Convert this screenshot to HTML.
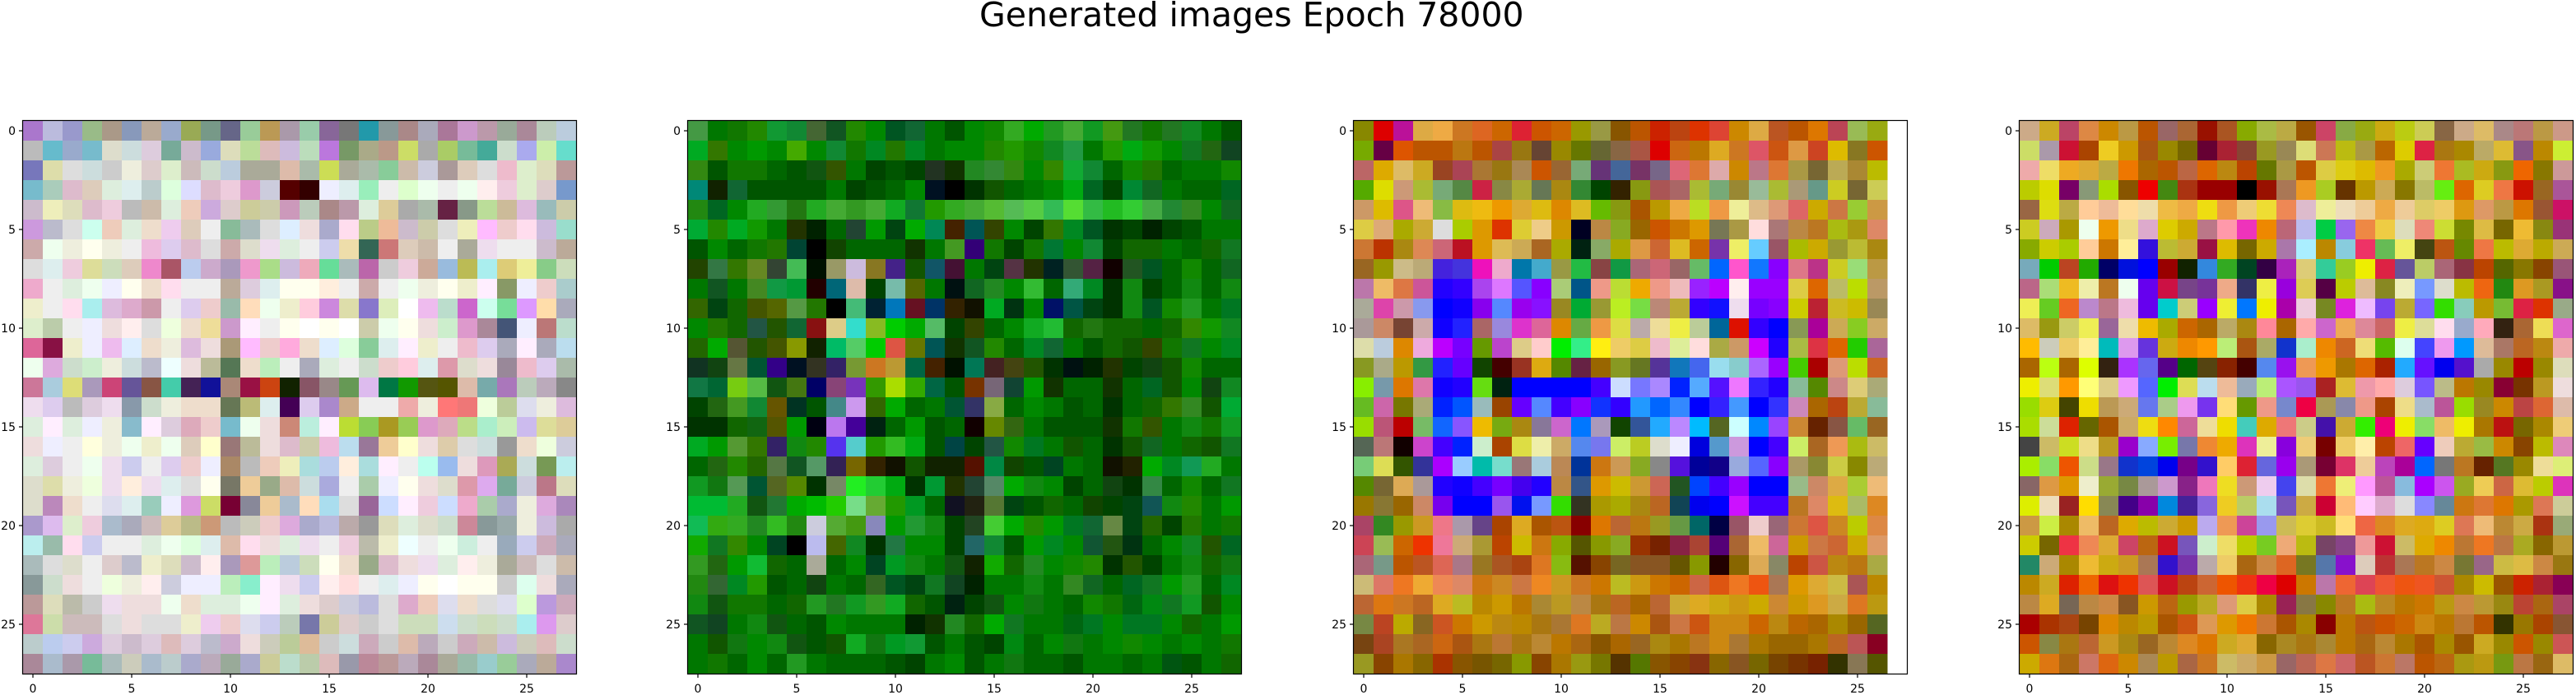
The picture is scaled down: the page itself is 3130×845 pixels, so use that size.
<!DOCTYPE html>
<html><head><meta charset="utf-8">
<style>
html,body{margin:0;padding:0;background:#fff;}
svg{display:block;font-family:"DejaVu Sans","Liberation Sans",sans-serif;}
</style></head>
<body>
<svg id="fig" width="3130" height="845" viewBox="0 0 3130 845" xmlns="http://www.w3.org/2000/svg">
<rect x="0" y="0" width="3130" height="845" fill="#fff"/>
<text x="1190" y="32" font-size="41" fill="#000">Generated images Epoch 78000</text>
<g id="panels"></g>
</svg>
<script>
const xTickValues = [0, 5, 10, 15, 20, 25];
const yTickValues = [0, 5, 10, 15, 20, 25];
const tickLabels = ["0", "5", "10", "15", "20", "25"];
const panelNames = ["image-1", "image-2", "image-3", "image-4"];

const image1Rows = [
"a7c bbd 99c 9b8 a98 89b ba9 9ac 9a5 798 668 9c9 b95 a9a 9ca 869 777 29a 899 a88 aab a79 c9c b9a 9a9 a89 bcb bcd",
"bbb 6bc 9ac 7bc ddc cdd dcd 7a9 cbc 9ad ddb bd9 dbb cbd bdb b7d 796 aa8 b98 cd6 aaa ac6 7b9 4a9 cdc aae cea 6dc",
"77b dda ddd cdd ccc eed dcc dec cbb cdc bcd aa9 aa9 dba aba cd5 aa9 aba 8c9 cba ccd a99 dcb ddd ebc dec ddb b99",
"7bc acb dbc dcb ded dee bcc dfd ddf dbc ecd d9c ccd 500 300 eef dee 9eb eee dfc efe eee efe fee ecd dec dcc 79c",
"cbc eeb ddb dbc ecd bbb cba ded ecb cad dcc cc9 cca c9b bcb a88 b9a ded dc9 aaa aba 624 898 bd9 cb9 dbd 9bb cca",
"c9d bbc ddd cfe ecb ded edc ece dcb eee 8b9 abb ddd def edd aac fde bc8 eb9 cbc cca ddd eeb fbf ecc fde cbd 9dc",
"caa efe eed ffe eed eee ebd dce dbc ddd caa ddc ede ded eee cce eda 365 c77 dcb cba eee aa9 ede eee eee cbc ba9",
"ddd dee ecd dd9 cdb dcb e8c a56 bce cac a9b e9c ad8 cbd eab 6d9 abb b6a ccc ecd ca9 9bd bb5 aee dc7 ee9 8c8 cdb",
"eac eee ded efe eef ffe edc fde eee eee ba9 dcd dee ffe ffe fed eee caa eee efe eed ffe eec fef 896 eef ecc acc",
"eec eee fde aee dbd dac c9a eee dce ecc 9ba fdb efe eec fcd c8d dda 87c deb fff ebe bdc c6c cfe 7d9 d9f fda aab",
"dec bca eee eef edd fee ddd efd edc ed9 c9c fef eee ffe fff ffe fff cca efe ffe edd cec d9c a89 457 eef b77 bdc",
"d69 814 eec eef ebe def edc eed dbd edd a97 fbf ecc fad edc def dfd 8c9 dee fef eec eee ebc dce aab fef aab bde",
"efe dad cdc cec eed cdd bbc eff edd bb9 575 edc beb eee aab ded eee cdc ecc fcd dee d9a ddc edd 989 ebc dce aba",
"c79 acd dd7 a9b c47 659 854 4ca 425 119 a87 914 c41 120 856 988 695 dbe 074 190 551 550 dba 7aa a7b bcb bab 888",
"ede dce bbb dcd ede 89a cdc eed edc edc 675 bb7 dee 405 dce a8c ca8 eee eee eaa eed f77 e77 efd bc9 dde eed dbd",
"ded fef ded eef eed 8bc fef dcd dab ecc 7bc efe edd c87 bed fef bd3 8c5 a92 9c5 d9c dab bd8 aec ceb cbe dd9 dc9",
"edd eef eee ffd eed efe eec efe dcb ffc 977 bb9 edd dbc cca ebd bde 979 ec9 ffc edd dca ddd cdd 999 edc efd ccd",
"ded dcd eee efe ede cce eee dce ecc eef a86 bbb ecb eeb add bce fed add fef eee bfe 9be edd d9b aa5 cdd 795 bee",
"ddc dda eed efd ede fed ede dee ddd ffe 776 ec9 9a8 dba cdd aad eee aca eef ffe edd ddc d9a dae 7a9 ccd b78 ddb",
"ddc b8b edc eee dde dee 9cb eef d9d cd6 703 889 ec9 abc fdb ade ddd 969 cdf fef ecd cdf eac aca aac eed dad a8b",
"a9c dbe dec ecd abc aab cbb dc9 bb8 c97 bbb ccb ecc dad aac bbd baa 999 ddb ded ddc cdc c89 899 9aa eed cbd aaa",
"bee 9ba fde cce eee eee ded efe dfd dee dba fde edd ded ede eee ecd bba eec eff eee efe ced eee 9ab cce cab aab",
"abb ddd ddc eee dcc bbc eec ddb cbc fee a9b d99 beb bcd cdb ffe edc 9a8 dbc edd ede ded fee eed aa9 cbb ddd cba",
"899 cdc edd eee efd eed fee ccd eef eef beb 8ec fef ede cce fee fdd eee dee eef ffe fff ffe ffe ccc dfe edd aab",
"b99 ddb bba ccc ede edd edd efe edc ded ded efe fef ded edd dcc ccd bbd ddd dac ecb dde edc ddd dde dfc b9d cab",
"d79 cda cbb cbb ddd edd ddd ddd eec ece ecc dde cce bcb 77a cc9 dcc ccc ddd cdb cdb cde cdc cdb cdc aee d9e dcc",
"bcc bce cce cad dcd cbc dcd dbb dcd bbc cac edd ccb bc9 db9 ccc cdd cab ccc dba bab ccc cab cba cbd ccb dbb cdc",
"a89 abc a9a 7b9 abb ccb abc bcc aac bab 9a9 aac cc9 bdc bca dbb 99a b89 b99 bab a89 aa9 9ba 9cc 9c9 aab ba9 a8c"
];

const image2Rows = [
"494 070 170 280 193 183 463 152 280 080 052 163 070 050 080 180 3a2 0a0 292 4a3 192 491 272 170 272 182 070 050",
"0a2 370 080 090 080 4a0 080 183 170 082 270 082 070 080 080 280 290 180 182 294 070 290 0a1 190 080 172 261 142",
"381 050 170 170 060 050 151 350 070 040 050 040 232 130 282 383 381 080 380 1a3 183 060 180 270 060 070 070 180",
"087 120 163 050 050 050 050 070 040 050 060 080 012 000 030 150 060 070 080 0a1 062 040 083 162 070 060 060 062",
"281 062 080 2a2 393 271 2a2 4a3 392 4a3 1a2 173 290 3a2 4a3 5b3 5b5 5c4 3b5 5d3 3b4 2b2 3c3 4a4 283 382 080 162",
"0a3 280 0a2 190 070 230 020 060 243 090 041 0a0 085 420 055 340 080 040 370 082 052 030 040 020 040 050 070 070",
"050 080 060 170 270 043 000 140 060 060 060 130 070 492 307 170 040 170 073 080 183 040 160 160 070 060 160 172",
"240 374 370 682 343 4b5 010 996 cbd 872 428 150 156 413 070 041 534 230 022 353 524 100 252 052 060 180 060 162",
"070 152 070 482 194 093 200 067 dba 040 7ba 560 070 011 162 282 080 3b3 060 3a7 082 030 181 040 060 181 060 181",
"360 041 160 450 560 594 270 000 4b7 023 07b 612 036 320 110 0a2 031 080 016 054 041 030 181 052 180 292 070 072",
"080 270 160 254 250 163 811 dc8 3dc 8b2 0c0 0a0 5b6 040 340 060 080 1a2 2b3 160 271 160 160 060 160 380 190 182",
"260 0a0 553 250 450 890 120 0b6 5c6 0c0 d54 670 055 130 152 280 060 082 163 070 050 160 150 340 170 172 080 082",
"132 141 674 053 308 012 332 326 793 c72 b93 064 420 010 075 422 441 250 030 011 020 230 040 141 150 180 060 060",
"174 063 7c1 5b4 151 471 006 847 73b 390 ad0 3a0 064 050 730 767 143 090 130 060 060 130 060 062 150 080 141 182",
"040 261 492 183 650 032 050 488 c9e 360 0a0 060 070 053 336 8a4 060 080 070 050 060 030 060 160 370 382 150 0a3",
"030 030 160 161 550 090 001 b7e 409 021 060 090 050 060 100 680 361 070 050 050 050 130 170 350 070 181 170 192",
"0a2 090 593 370 326 181 280 53e 5cc 290 3b2 0a1 050 044 040 254 180 072 070 150 060 030 150 162 070 160 150 172",
"060 261 280 260 574 152 596 325 760 320 110 150 120 120 510 084 140 050 042 070 060 110 220 0a0 082 195 2a2 070",
"192 171 595 053 562 580 030 786 2e2 2c3 0a1 030 093 230 243 586 0a0 181 080 040 060 141 030 384 060 180 060 172",
"0b3 0b3 2a2 151 273 0a0 0b0 2c0 7d8 6a3 290 092 060 112 221 573 041 050 160 060 140 040 041 155 181 280 070 090",
"1b5 3a1 3a2 282 3b2 281 ccd 5a3 491 88b 090 293 181 040 242 4c3 0a0 280 090 072 163 684 041 260 040 270 070 170",
"1a0 172 380 080 042 000 bbe 460 182 030 274 080 080 040 266 183 050 090 082 080 153 251 031 060 080 182 250 062",
"392 261 090 1b3 160 060 aa9 060 080 042 092 181 070 151 120 1a0 160 282 080 180 280 030 250 040 070 181 160 171",
"281 363 082 290 050 060 141 070 060 362 052 041 172 142 020 070 070 181 070 382 162 060 062 172 090 292 060 082",
"181 151 170 170 060 160 292 272 192 392 1a2 160 050 021 040 151 080 171 070 060 180 170 061 081 172 192 150 080",
"152 142 070 181 151 060 050 080 070 070 070 020 130 282 160 0a0 172 070 070 061 072 080 072 072 080 160 070 090",
"070 150 171 080 181 151 050 150 1a2 171 092 193 050 070 050 040 081 060 080 171 070 080 180 080 070 080 070 170",
"070 170 060 080 060 292 070 060 060 060 050 040 070 080 050 070 171 060 060 050 070 070 060 070 051 050 070 160"
];

const image3Rows = [
"880 d00 b19 da4 ea4 c72 d62 c60 d23 c50 c60 990 994 850 b50 c20 b41 d30 d43 c80 da4 b52 b50 d70 b45 9b5 9a1",
"7a0 604 d50 b50 b50 b71 b50 a44 971 643 980 670 663 864 a54 d00 c61 b70 da2 c72 d56 c51 d94 c42 db0 872 c50",
"b66 da0 db6 ca2 942 a45 a73 971 a85 c50 963 7a7 637 469 736 768 d67 d73 daa c80 b78 d73 a94 763 ba5 a83 bb0",
"5a0 dd0 c97 ab3 7a7 584 c24 884 aa3 675 a81 383 040 320 891 a55 a66 ab3 7a7 983 9b9 ab3 a97 698 cc2 763 cc5",
"c96 db0 d58 eb7 8b4 db1 eb1 e90 da3 db1 d80 db2 6b0 891 a50 b90 ea4 bd2 e94 ee9 db8 d97 d66 ca0 c74 9c3 c94",
"dc4 da7 aa0 ca3 ddd ac0 d90 d30 dc3 ec8 c90 002 b84 8a2 960 c50 c70 d90 775 a94 fdd a77 b84 b72 ab1 a91 d86",
"c73 b30 a81 d85 c67 b12 d90 db5 ca5 a62 aa0 021 8a6 aa0 d94 c63 db2 c60 73a ee6 6cf 956 ab0 ca0 993 bb3 a81",
"962 990 cb8 ba7 42d 43d e1b eac 07a 4ac 994 2b4 844 194 a67 c67 966 6b6 06f f5c 17f 80f d78 b38 cc2 9d7 b94",
"b7a eb6 d74 c59 20f 30f a4e d7f 55f 80f ac7 058 e98 bd3 ea0 e98 ebb 92f b0f fee 90f 90f dc4 d60 bb6 bd0 b96",
"aa9 d4a c9a 89e 00f 10f 80e 58f 90e 81f 982 0a3 993 be2 7d4 b87 ba3 30f 11f ede 70f 80f cc0 b23 cb2 cb0 985",
"a99 c86 743 caa 10f 22f a66 98d d3c d69 d80 6a4 e94 dd4 baa ed9 ee4 bc9 069 d10 30f 00f 895 a09 ca5 8c2 ca6",
"dda bcd d80 ead b0f 70f 690 b4c dc8 fcc 0e0 3e8 fe1 ec6 dc4 ebc de9 fdd aa4 c96 c0f 20f ab4 d34 d60 2c0 a69",
"892 aa8 b90 394 22f 60f 140 400 932 da1 580 624 960 892 672 539 17b 46e 9de 8cc a6f 90f 4c0 a00 d97 bd0 c62",
"8e0 79a d70 d7a 10f 20f 6d1 021 00f 00f 00f 00f 40f cdf 77f a8f 02f 5af 51f e7f 32f 20f 8b9 580 c88 dc7 aa7",
"6b2 c6a 770 aa7 02f 05f 9bb 940 60f 58f 40f 80f 13f 30f 29f 06f 38f 00f 32f 49f 00f 33f c8b a60 b41 ba3 8b9",
"9d0 b57 b00 7b6 16f 85f eb0 7a1 a81 879 c6c 07f a9b 140 359 2af b8f 0bf 562 cff 08f 94f c83 620 854 6b6 962",
"565 b77 100 c4c 40f 02f cec a40 dd4 eea ca6 58e 77e ce6 bc2 ddc eef 00d 59c c9d 00f 40f ce6 a62 e95 ab1 cb6",
"7c7 dd5 350 339 a0f 9cf 0ba 7dc 977 acd b85 039 c71 c95 8a2 888 51d 009 108 9ad 56f 80f a96 883 cc4 880 ba7",
"580 763 da5 a99 20f 10f 40f 70f 40e 20f b84 358 d90 cb0 c93 c65 252 04f 40f 90f 00f 00f 9b8 c86 da4 ac3 eb7",
"970 873 960 c86 70e 00f 00f 95e 01e 79f 3d0 332 a90 aa0 a81 b62 145 00e 00f c1f 40f 40f b72 d86 db1 ab6 d82",
"a46 382 990 c92 e78 a9a 648 a40 da2 a50 b51 800 d70 b63 b71 992 694 066 004 956 ecc 967 c73 d54 c82 bc0 d84",
"c45 9b5 c60 e30 e79 ca7 a93 b40 cb0 c71 8a0 550 890 8a2 930 720 824 a43 507 a63 eb6 c69 c90 c74 c63 ca0 d96",
"a67 798 b50 b52 d65 a78 972 a52 a41 d72 8b1 510 840 762 852 852 650 890 200 860 da5 886 b40 c54 b81 b71 aa4",
"cb7 d76 e72 ea3 e85 d86 c71 c82 c74 e82 c92 c72 c70 bb2 c91 c70 c60 c64 d51 e72 e51 a75 d90 da3 cb4 a55 b80",
"b63 d71 c72 b62 da2 bb2 b80 c90 b70 a83 b92 b84 a71 b62 a60 b63 ca3 da2 ca1 c91 ca0 c83 c90 d92 ca4 d72 b91",
"784 b42 ba0 862 c52 c70 c90 b81 b80 a71 a73 d72 ba2 b74 c80 a51 c74 c51 c81 c81 c60 b81 b60 a60 a80 960 562",
"741 a42 a72 a62 c61 a51 a71 b73 a71 b83 b70 a61 850 a60 962 a81 a70 b72 c81 a73 a70 960 960 a70 b62 b55 802",
"992 840 a70 860 a30 850 750 760 890 840 a70 991 770 530 570 850 840 831 860 852 760 740 730 720 330 875 550"
];

const image4Rows = [
"ca8 ca2 b46 d84 c80 b94 b50 966 a63 910 a52 8a0 ab4 ba4 950 c46 8a4 9a1 ca1 bc1 cc5 864 ca8 db6 a88 b77 b94 c98",
"cd6 a9a c13 a40 ec2 c90 a51 980 760 603 a23 843 992 985 dd7 c75 bb1 a94 b60 dc0 d24 a71 a80 ba6 db3 858 b80 ce3",
"eaa ed6 ea2 da3 ba4 e70 a60 b50 b64 d60 b81 b40 670 a94 b50 dc4 dc1 db0 e92 aa0 cc7 e73 ab2 ca1 891 e60 870 c99",
"bc0 dd0 706 897 ad0 850 e00 481 a31 900 900 000 910 a75 e92 ac2 630 b90 ca5 870 bb6 6e1 d60 dc2 e74 c10 962 a59",
"964 dd1 ba4 fc9 eb9 fd9 eda eb4 ea4 ed1 e94 ec7 ed3 e85 dbc ee9 edb ec9 ea4 ec9 dc6 ec6 d91 d96 b94 d70 953 c16",
"cc2 cab a90 efe e90 ed8 dac dc0 ca0 b78 f9a e3b e80 b67 bbe 0c4 96e e84 ec4 ddb e87 cd3 780 db4 760 eb3 881 937",
"8a0 cc0 ac0 fc9 c70 fe9 31d bb3 ca3 914 db0 760 ca0 a7a aef b80 8cd e36 6b5 ee6 441 b51 680 e74 bb0 da3 ba0 ca5",
"7ab 0c0 b42 2a0 006 01d 00f 900 120 38d 3a2 042 304 a2b dc7 3c9 9c2 ee0 d24 659 bc6 a67 834 b40 560 870 840 957",
"b68 ad7 eb2 eea b72 efe 60e c14 748 739 ea8 336 ee4 90d dc5 504 bc0 db9 882 eeb 79f ddc bb0 e61 281 d92 a92 818",
"ee5 6c2 e62 b8c b78 ebd 60e 0cc cc7 90f ee3 07f ee0 a0a ecd 782 d2d ebf 74e ba3 76f 3d0 8cb b90 7b3 d24 d30 9a8",
"db6 991 cc6 ee5 969 eda eb0 aa0 c60 a60 ba6 a81 f89 a60 faa c6c ea5 d89 c66 ee4 dd9 fde 9ac fab 321 a63 ed5 d6c",
"fb0 ccb ec6 fe9 0bb d9e 63d ca1 e80 f90 be7 a51 aa6 13c aec e80 c62 ed7 5b0 dfe 44f e9e 09f db9 a76 b62 b81 eaa",
"a60 bf1 a60 df0 321 a3f 66e 508 060 541 820 400 58e 91e e95 e90 a70 d60 a20 2af 61f 00e 51c aaa 980 b00 980 ddb",
"ee0 dd7 f90 ff7 dc8 e9f 56f 0e0 dd5 bde eb9 9ab be7 a5f 95e a22 db3 e9a faa dcd 75f bb8 b70 980 803 730 b92 edd",
"9d0 dc1 440 ed0 b95 ca7 67e ac8 e9e 73e fd7 690 e98 78c e04 a95 88a e98 a40 ed8 abc b59 9d0 982 c80 b44 d63 dba",
"ad0 cd9 d20 660 a50 ca6 ed1 f80 c69 ed9 ed0 4cb da0 e77 cc8 41a ca3 3e0 e07 ee0 8d6 eb6 ee0 a70 b11 760 a80 ec7",
"444 cb6 cd2 ed8 b92 90c 8af 7e0 77a e83 ea0 d3b ee9 80d ec7 700 ec6 fea b40 e66 60f ecb ba3 9b4 c80 840 bb0 d8b",
"ae0 8d6 e50 cd8 978 13c 04d 00e 708 31c fc6 d23 66d 90e a97 703 d36 ec9 b4b a09 06f 777 b72 620 572 980 ed9 de7",
"866 d94 d90 eec 9a3 784 a99 c9c 828 e7b ed2 c97 ece 44e dda e73 ee7 f9f b59 8bd a0f c5e 9a2 ec5 c64 db3 bc0 d3b",
"de0 edb 922 fd0 885 408 80a 08d 429 86d ec2 bc6 ade 75b ca4 c03 fb7 fcf dac ddd 88f 689 c71 d73 d70 a90 d75 cc9",
"c94 ce4 a80 eb6 b62 da0 bb0 ca3 c90 bae e95 c49 99e cb5 dc3 cb2 fd7 e64 d82 da2 da1 dc2 d75 eb7 b83 ca4 a31 9a7",
"cc0 760 e34 e85 da3 c46 b61 c12 75b cec ed6 bc0 7c2 ea7 bb1 746 848 e99 c13 cb6 da0 e80 b73 e72 b74 aa2 860 b93",
"286 ca7 a80 eb3 ca1 c92 a75 31c 73a baa ec6 a61 c84 d62 772 57a 81c dcb b33 a75 b72 c84 773 968 cb4 db4 c84 971",
"b80 ca2 d20 e60 d11 e30 d55 c12 b41 c63 e50 e31 e04 d00 c70 b7a e63 d45 e53 e51 e52 c53 a80 cb0 950 c20 a23 805",
"b84 da2 765 b84 c84 852 c90 b61 990 ba2 d97 dc4 a80 925 874 880 b72 ab1 b82 b70 c70 b91 c84 b93 981 b43 a61 a46",
"a00 a30 a41 740 d80 b80 b90 a50 c51 d95 d90 e70 c73 a50 a80 800 b70 b51 c50 c60 c81 b70 b73 b50 330 970 a40 853",
"c50 884 a71 b63 c92 a81 962 b83 d82 d70 ca2 da3 860 a82 a71 a83 b70 a61 b83 a70 a50 a80 950 ca2 980 c50 980 c55",
"ca0 d71 a61 c76 d61 c80 a85 b90 a64 c72 cb6 ca6 c94 966 b65 d74 c66 b52 c73 b76 b50 b61 a91 b91 791 b74 961 db6"
];

const allImages = [image1Rows, image2Rows, image3Rows, image4Rows];

const SVGNS = "http://www.w3.org/2000/svg";
const panelLefts = [28, 836, 1645, 2454];
const panelTop = 147;
const cell = 24;
const nCells = 28;

function xScale(left, v) { return left + (v + 0.5) * cell; }
function yScale(v) { return panelTop + (v + 0.5) * cell; }

const root = document.getElementById("panels");
for (let p = 0; p < allImages.length; p++) {
  const left = panelLefts[p];
  const g = document.createElementNS(SVGNS, "g");
  
  
  root.appendChild(g);
  const rows = allImages[p];
  for (let r = 0; r < rows.length; r++) {
    const cols = rows[r].trim().split(/\s+/);
    for (let c = 0; c < cols.length; c++) {
      const rect = document.createElementNS(SVGNS, "rect");
      rect.setAttribute("x", left + c * cell);
      rect.setAttribute("y", panelTop + r * cell);
      rect.setAttribute("width", cell + 0.5);
      rect.setAttribute("height", cell + 0.5);
      rect.setAttribute("fill", "#" + cols[c]);
      
      
      g.appendChild(rect);
    }
  }
  const frame = document.createElementNS(SVGNS, "rect");
  frame.setAttribute("x", left - 0.5);
  frame.setAttribute("y", panelTop - 0.5);
  frame.setAttribute("width", nCells * cell + 1);
  frame.setAttribute("height", nCells * cell + 1);
  frame.setAttribute("fill", "none");
  frame.setAttribute("stroke", "#000");
  frame.setAttribute("stroke-width", "1.2");
  
  
  g.appendChild(frame);
  const bottom = panelTop + nCells * cell;
  for (let i = 0; i < xTickValues.length; i++) {
    const x = xScale(left, xTickValues[i]);
    const t = document.createElementNS(SVGNS, "line");
    t.setAttribute("x1", x); t.setAttribute("x2", x);
    t.setAttribute("y1", bottom); t.setAttribute("y2", bottom + 5);
    t.setAttribute("stroke", "#000"); t.setAttribute("stroke-width", "1.2");
    
    
    g.appendChild(t);
    const lab = document.createElementNS(SVGNS, "text");
    lab.setAttribute("x", x); lab.setAttribute("y", bottom + 23);
    lab.setAttribute("text-anchor", "middle");
    lab.setAttribute("font-size", "14");
    lab.textContent = tickLabels[i];
    
    
    g.appendChild(lab);
  }
  for (let i = 0; i < yTickValues.length; i++) {
    const y = yScale(yTickValues[i]);
    const t = document.createElementNS(SVGNS, "line");
    t.setAttribute("x1", left - 5); t.setAttribute("x2", left);
    t.setAttribute("y1", y); t.setAttribute("y2", y);
    t.setAttribute("stroke", "#000"); t.setAttribute("stroke-width", "1.2");
    
    
    g.appendChild(t);
    const lab = document.createElementNS(SVGNS, "text");
    lab.setAttribute("x", left - 9); lab.setAttribute("y", y + 5);
    lab.setAttribute("text-anchor", "end");
    lab.setAttribute("font-size", "14");
    lab.textContent = tickLabels[i];
    
    
    g.appendChild(lab);
  }
}
</script>
</body></html>
